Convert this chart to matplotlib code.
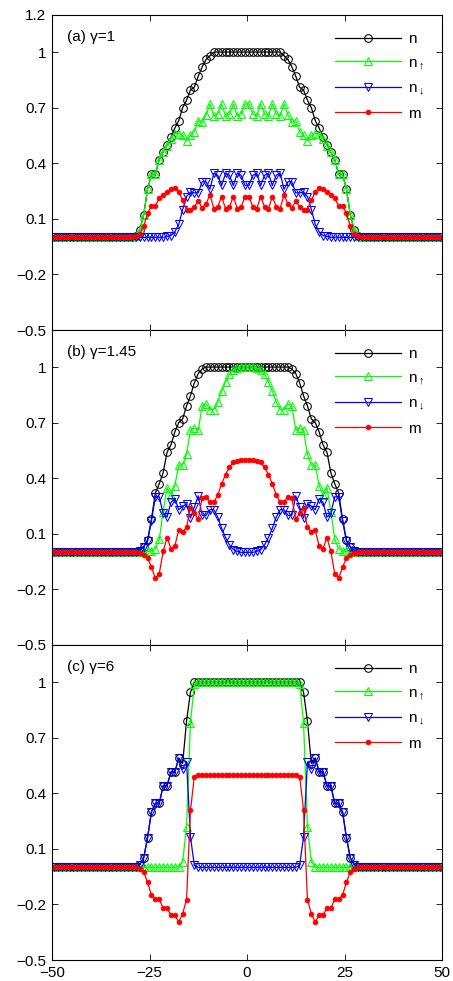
import numpy as np
import matplotlib
matplotlib.use("Agg")
import matplotlib.pyplot as plt

plt.rcParams['font.family'] = ['Liberation Sans', 'DejaVu Sans']
plt.rcParams['mathtext.fontset'] = 'custom'
plt.rcParams['mathtext.rm'] = 'Liberation Sans'
plt.rcParams['mathtext.it'] = 'Liberation Sans'
plt.rcParams['mathtext.fallback'] = 'cm'

# lattice sites
x = np.arange(-49.5, 50.0, 1.0)

Z = [0.0] * 18  # empty sites on each edge

# (a) gamma = 1
n_a = Z + [0, 0, 0, .01, .04, .12, .26, .34, .34, .42, .46, .50, .54, .59, .63, .70,
           .74, .795, .81, .87, .92, .96, .98, 1, 1, 1, 1, 1, 1, 1, 1, 1,
           1, 1, 1, 1, 1, 1, 1, 1, 1, .98, .96, .92, .87, .81, .795, .74,
           .70, .63, .59, .54, .50, .46, .42, .34, .34, .26, .12, .04, .01, 0, 0, 0] + Z
nup_a = Z + [0, 0, 0, .01, .04, .12, .26, .34, .34, .42, .46, .495, .53, .56, .56, .55,
             .52, .55, .57, .63, .62, .66, .72, .655, .665, .72, .655, .665, .72, .655, .665, .72,
             .72, .665, .655, .72, .665, .655, .72, .665, .655, .72, .66, .62, .63, .57, .55, .52,
             .55, .56, .56, .53, .495, .46, .42, .34, .34, .26, .12, .04, .01, 0, 0, 0] + Z
ndn_a = Z + [0, 0, 0, 0, 0, 0, 0, 0, 0, 0, 0, .005, .01, .03, .07, .15,
             .22, .245, .24, .24, .30, .30, .26, .345, .335, .28, .345, .335, .28, .345, .335, .28,
             .28, .335, .345, .28, .335, .345, .28, .335, .345, .26, .30, .30, .24, .24, .245, .22,
             .15, .07, .03, .01, .005, 0, 0, 0, 0, 0, 0, 0, 0, 0, 0, 0] + Z
m_a = Z + [0, 0, 0, .005, .02, .06, .13, .17, .17, .21, .23, .245, .26, .265, .245, .20,
           .15, .15, .165, .195, .16, .18, .23, .155, .165, .22, .155, .165, .22, .155, .165, .22,
           .22, .165, .155, .22, .165, .155, .22, .165, .155, .23, .18, .16, .195, .165, .15, .15,
           .20, .245, .265, .26, .245, .23, .21, .17, .17, .13, .06, .02, .005, 0, 0, 0] + Z

# (b) gamma = 1.45
n_b = Z + [0, 0, 0, 0, .01, .03, .065, .18, .32, .37, .43, .54, .58, .65, .70, .72,
           .79, .845, .915, .965, .99, 1, 1, 1, 1, 1, 1, 1, 1, 1, 1, 1,
           1, 1, 1, 1, 1, 1, 1, 1, 1, 1, 1, .99, .965, .915, .845, .79,
           .72, .70, .65, .58, .54, .43, .37, .32, .18, .065, .03, .01, 0, 0, 0, 0] + Z
nup_b = Z + [0, 0, 0, 0, 0, 0, .005, .01, .02, .07, .22, .35, .31, .36, .47, .47,
             .53, .66, .67, .66, .79, .80, .77, .77, .81, .87, .92, .96, .985, .995, 1, 1,
             1, 1, .995, .985, .96, .92, .87, .81, .77, .77, .80, .79, .66, .67, .66, .53,
             .47, .47, .36, .31, .35, .22, .07, .02, .01, .005, 0, 0, 0, 0, 0, 0] + Z
ndn_b = Z + [0, 0, 0, 0, .01, .03, .06, .17, .30, .30, .21, .19, .27, .29, .23, .25,
             .26, .185, .245, .305, .20, .20, .23, .23, .19, .13, .08, .04, .015, .005, 0, 0,
             0, 0, .005, .015, .04, .08, .13, .19, .23, .23, .20, .20, .305, .245, .185, .26,
             .25, .23, .29, .27, .19, .21, .30, .30, .17, .06, .03, .01, 0, 0, 0, 0] + Z
m_b = Z + [0, 0, 0, 0, -.005, -.015, -.03, -.08, -.14, -.115, .005, .08, .02, .035, .12, .11,
           .135, .24, .21, .18, .295, .30, .27, .27, .31, .37, .42, .46, .485, .495, .50, .50,
           .50, .50, .495, .485, .46, .42, .37, .31, .27, .27, .30, .295, .18, .21, .24, .135,
           .11, .12, .035, .02, .08, .005, -.115, -.14, -.08, -.03, -.015, -.005, 0, 0, 0, 0] + Z

# (c) gamma = 6
n_c = Z + [0, 0, 0, 0, .015, .05, .16, .30, .345, .345, .44, .44, .515, .515, .59, .56,
           .79, .945, 1, 1, 1, 1, 1, 1, 1, 1, 1, 1, 1, 1, 1, 1,
           1, 1, 1, 1, 1, 1, 1, 1, 1, 1, 1, 1, 1, 1, .945, .79,
           .56, .59, .515, .515, .44, .44, .345, .345, .30, .16, .05, .015, 0, 0, 0, 0] + Z
nup_c = Z + [0, 0, 0, 0, 0, 0, 0, 0, 0, 0, 0, 0, 0, 0, 0, .03,
             .22, .78, .99, 1, 1, 1, 1, 1, 1, 1, 1, 1, 1, 1, 1, 1,
             1, 1, 1, 1, 1, 1, 1, 1, 1, 1, 1, 1, 1, .99, .78, .22,
             .03, 0, 0, 0, 0, 0, 0, 0, 0, 0, 0, 0, 0, 0, 0, 0] + Z
ndn_c = Z + [0, 0, 0, 0, .015, .05, .16, .30, .345, .345, .44, .44, .515, .515, .59, .53,
             .57, .165, .01, 0, 0, 0, 0, 0, 0, 0, 0, 0, 0, 0, 0, 0,
             0, 0, 0, 0, 0, 0, 0, 0, 0, 0, 0, 0, 0, .01, .165, .57,
             .53, .59, .515, .515, .44, .44, .345, .345, .30, .16, .05, .015, 0, 0, 0, 0] + Z
m_c = Z + [0, 0, 0, 0, -.0075, -.025, -.08, -.15, -.1725, -.1725, -.22, -.22, -.2575, -.2575, -.295, -.25,
           -.175, .3075, .49, .5, .5, .5, .5, .5, .5, .5, .5, .5, .5, .5, .5, .5,
           .5, .5, .5, .5, .5, .5, .5, .5, .5, .5, .5, .5, .5, .49, .3075, -.175,
           -.25, -.295, -.2575, -.2575, -.22, -.22, -.1725, -.1725, -.15, -.08, -.025, -.0075, 0, 0, 0, 0] + Z

panels = [
    ("(a) γ=1", n_a, nup_a, ndn_a, m_a),
    ("(b) γ=1.45", n_b, nup_b, ndn_b, m_b),
    ("(c) γ=6", n_c, nup_c, ndn_c, m_c),
]

W, H = 453, 981
fig = plt.figure(figsize=(W / 100, H / 100), dpi=100)

green = (0, 1, 0)
for i, (title, n, nup, ndn, m) in enumerate(panels):
    top = 15 + 315 * i
    ax = fig.add_axes([52 / W, 1 - (top + 315) / H, 390 / W, 315 / H])
    ax.plot(x, n, '-o', color='k', mfc='none', ms=5.5, mew=0.75, lw=0.9, label='n')
    ax.plot(x, nup, '-^', color=green, mfc='none', ms=5.5, mew=0.75, lw=0.9,
            label=r'n$_{\uparrow}$')
    ax.plot(x, ndn, '-v', color='b', mfc='none', ms=5.5, mew=0.75, lw=0.9,
            label=r'n$_{\downarrow}$')
    ax.plot(x, m, '-o', color='r', ms=3.5, mew=0.5, lw=0.9, label='m')

    ax.set_xlim(-50, 50)
    ax.set_ylim(-0.5, 1.2)
    ax.set_xticks([-50, -25, 0, 25, 50])
    ax.set_xticklabels(['−50', '−25', '0', '25', '50'])
    if i == 0:
        yt = [-0.5, -0.2, 0.1, 0.4, 0.7, 1.0, 1.2]
        yl = ['−0.5', '−0.2', '0.1', '0.4', '0.7', '1', '1.2']
    else:
        yt = [-0.5, -0.2, 0.1, 0.4, 0.7, 1.0]
        yl = ['−0.5', '−0.2', '0.1', '0.4', '0.7', '1']
    ax.set_yticks(yt)
    ax.set_yticklabels(yl)
    ax.tick_params(direction='in', top=True, right=True, length=4, width=0.6,
                   labelsize=11, pad=4, labelbottom=(i == 2))
    for s in ax.spines.values():
        s.set_linewidth(0.8)

    ax.text(0.038, 0.931, title, transform=ax.transAxes, fontsize=11, va='center', ha='left')
    ax.legend(loc='upper left', bbox_to_anchor=(0.726, 0.945), frameon=False,
              handlelength=4.3, handletextpad=0.45, labelspacing=0.62,
              borderpad=0, borderaxespad=0, fontsize=11, numpoints=1)

fig.savefig('out.png', dpi=100)
